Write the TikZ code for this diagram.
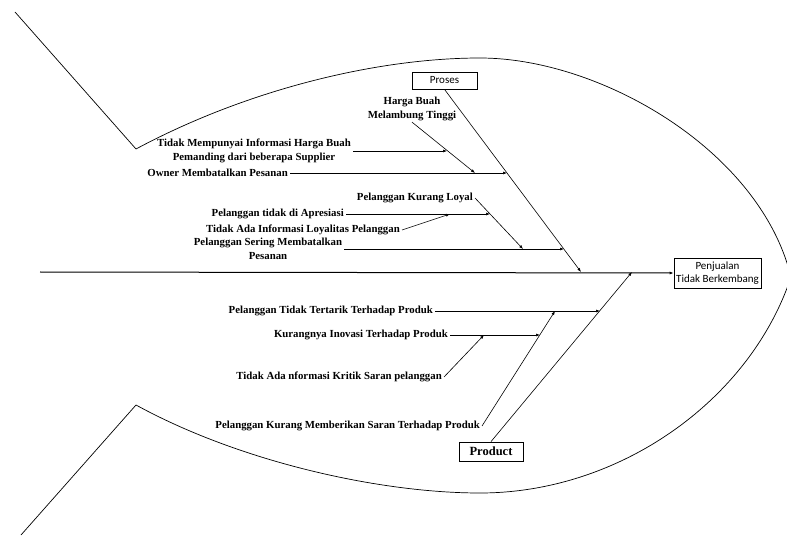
\documentclass[tikz,border=0pt]{standalone}
\usepackage{fontspec}
\setmainfont{Liberation Serif}
\newfontfamily\calibri{Carlito}
\usetikzlibrary{arrows.meta}
\begin{document}
\begin{tikzpicture}[x=1pt,y=-1pt,
  lbl/.style={font=\fontsize{10.8}{14}\selectfont\bfseries, inner ysep=1pt, inner xsep=2pt, align=center},
  box/.style={draw, line width=0.8pt, inner sep=0pt, font=\calibri\fontsize{11}{13}\selectfont, align=center},
  arr/.style={-{Latex[length=4pt,width=3pt]}, line width=0.6pt},
  ln/.style={line width=0.7pt}]
\useasboundingbox (0,0) rectangle (787,537);
% fish outline
\draw[ln] (15,12) -- (136,149) .. controls (250,88) and (380,58) .. (480,58)
  .. controls (600,58) and (760,150) .. (791,277)
  .. controls (750,400) and (620,493) .. (480,493)
  .. controls (380,493) and (240,462) .. (136,405) -- (21,535);
% boxes
\node[box, minimum width=65pt, minimum height=17pt] (proses) at (444.5,80.5) {Proses};
\node[box, minimum width=87pt, minimum height=30pt] (head) at (717.5,273) {Penjualan\\Tidak Berkembang};
\node[draw, line width=0.8pt, minimum width=64pt, minimum height=19pt, inner sep=0pt,
  font=\fontsize{12.5}{14}\selectfont\bfseries] (product) at (491,451.5) {Product};
% labels upper
\node[lbl] (harga) at (412,109) {Harga Buah\\Melambung Tinggi};
\node[lbl] (info) at (254,151) {Tidak Mempunyai Informasi Harga Buah\\Pemanding dari beberapa Supplier};
\node[lbl, anchor=east] (owner) at (290,173) {Owner Membatalkan Pesanan};
\node[lbl, anchor=east] (loyal) at (475,198) {Pelanggan Kurang Loyal};
\node[lbl, anchor=east] (apres) at (346,214) {Pelanggan tidak di Apresiasi};
\node[lbl, anchor=east] (loyinfo) at (402,230) {Tidak Ada Informasi Loyalitas Pelanggan};
\node[lbl] (sering) at (268,249) {Pelanggan Sering Membatalkan\\Pesanan};
% labels lower
\node[lbl, anchor=east] (tertarik) at (435,311) {Pelanggan Tidak Tertarik Terhadap Produk};
\node[lbl, anchor=east] (inovasi) at (450,335) {Kurangnya Inovasi Terhadap Produk};
\node[lbl, anchor=east] (kritik) at (444,377) {Tidak Ada nformasi Kritik Saran pelanggan};
\node[lbl, anchor=east] (saran) at (482,426) {Pelanggan Kurang Memberikan Saran Terhadap Produk};
% coordinates
\coordinate (tail) at (40,272);
\coordinate (spA) at (581,272);
\coordinate (spB) at (632,272);
\coordinate (pOwner) at (507,173);
\coordinate (pSering) at (564,249);
\coordinate (pHarga) at (475,173);
\coordinate (pInfo) at (447,151);
\coordinate (pLoyal) at (523,249);
\coordinate (pApres) at (490,214);
\coordinate (pLoyInfo) at (450,214);
\coordinate (pTertarik) at (600,311);
\coordinate (pSaran) at (555,311);
\coordinate (pInovasi) at (540,335);
\coordinate (pKritik) at (484,335);
% spine and bones
\draw[arr, line width=1pt] (tail) -- (head.west);
\draw[arr] (proses.south) -- (spA);
\draw[arr] (product.north) -- (spB);
\draw[arr] (owner.east) -- (pOwner);
\draw[arr] (harga.south) -- (pHarga);
\draw[arr] (info.east) -- (pInfo);
\draw[arr] (loyal.east) -- (pLoyal);
\draw[arr] (apres.east) -- (pApres);
\draw[arr] (loyinfo.east) -- (pLoyInfo);
\draw[arr] (sering.east) -- (pSering);
\draw[arr] (tertarik.east) -- (pTertarik);
\draw[arr] (inovasi.east) -- (pInovasi);
\draw[arr] (kritik.east) -- (pKritik);
\draw[arr] (saran.east) -- (pSaran);
\end{tikzpicture}
\end{document}
